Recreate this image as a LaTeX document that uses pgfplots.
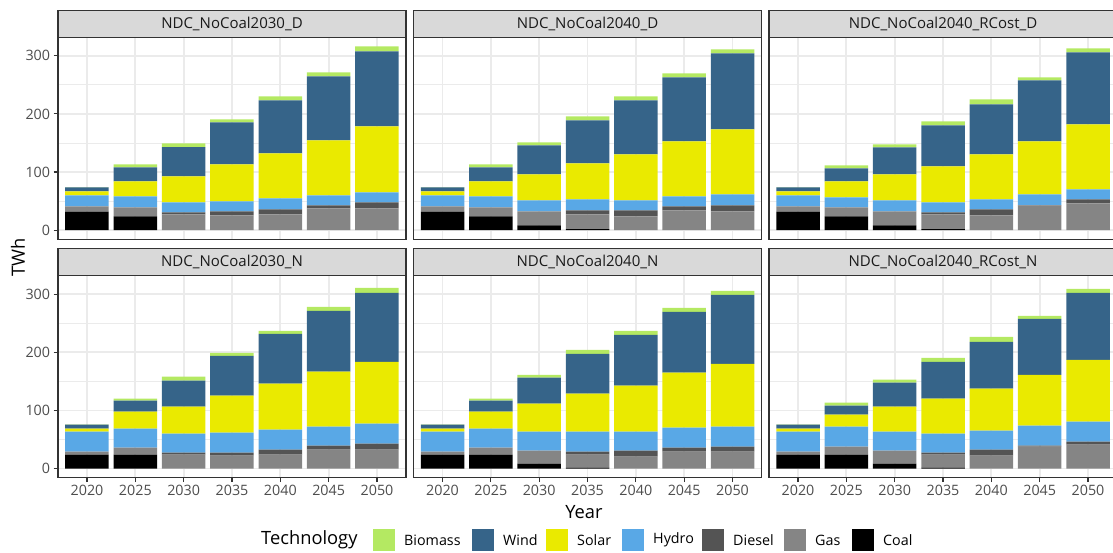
\documentclass[border=0pt]{standalone}
\usepackage{fontspec}
\setmainfont{Open Sans}
\usepackage{pgfplots}
\pgfplotsset{compat=1.18}
\usepackage{pgfplotstable}

\definecolor{cBiomass}{RGB}{180,233,98}
\definecolor{cWind}{RGB}{54,100,137}
\definecolor{cSolar}{RGB}{234,234,0}
\definecolor{cHydro}{RGB}{89,168,230}
\definecolor{cDiesel}{RGB}{84,84,84}
\definecolor{cGas}{RGB}{133,133,133}
\definecolor{cCoal}{RGB}{0,0,0}
\definecolor{grey92}{RGB}{235,235,235}
\definecolor{grey85}{RGB}{217,217,217}
\definecolor{grey30}{RGB}{77,77,77}
\definecolor{grey20}{RGB}{51,51,51}
\definecolor{grey10}{RGB}{26,26,26}

% Generation by technology (TWh), x = 0..6 for 2020..2050
\pgfplotstableread{
x coal gas diesel hydro solar wind biomass
0 32   9    0    19   6.5   7     0.4
1 23.5 15.5 0    19   25.8  24.1  5.1
2 0    27   3.4  17.2 44.8  50.5  6.3
3 0    25.2 6.9  17.2 63.7  72.3  5.2
4 0    27   8.6  18.9 77.5  91.2  6.8
5 0    37.3 5.2  17.2 94.6  110.2 6.9
6 0    37.3 10.3 17.2 113.6 129.1 8.6
}\tabA
\pgfplotstableread{
x coal gas diesel hydro solar wind biomass
0 32   9    0    19   6.5   7     0.4
1 23.5 15.5 0    19   25.8  24.1  5.1
2 8    24.1 0    18.9 44.8  49.9  5.2
3 1.7  25.3 6.8  19   61.9  74.1  6.8
4 0    23.5 10.3 17.2 79.2  93    6.8
5 0    33.8 6.9  17.2 94.7  110.2 6.8
6 0    32.1 10.4 18.9 111.9 130.8 6.9
}\tabB
\pgfplotstableread{
x coal gas diesel hydro solar wind biomass
0 32   9    0    19   6.5   7     0.4
1 23.5 15.5 0    17.2 27.6  22.3  5.2
2 8    24.1 0    18.9 44.8  46.5  5.1
3 1.7  25.3 3.4  17.2 62    70.5  6.9
4 0    25.2 10.4 17.2 77.4  86.1  8.6
5 0    42.5 0.5  18.4 91.2  105   5.2
6 0    45.9 6.9  17.2 111.9 123.9 6.9
}\tabC
\pgfplotstableread{
x coal gas diesel hydro solar wind biomass
0 24   5.2  0    34.3 5.2   6.9   0.4
1 24   12.1 0    32.6 29.2  18.9  3.4
2 0    24   3.5  32.6 46.4  44.6  6.9
3 0    22.3 5.2  34.3 63.6  68.6  5.2
4 0    24   8.6  34.4 79    85.8  5.2
5 0    32.6 6.9  32.6 94.5  104.7 6.9
6 0    32.6 10.3 34.4 106.4 118.5 8.6
}\tabD
\pgfplotstableread{
x coal gas diesel hydro solar wind biomass
0 24   5.2  0    34.3 5.2   6.9   0.4
1 24   12.1 0    32.6 29.2  18.9  3.4
2 8.6  22.3 0    32.6 48.1  44.7  5.1
3 1.7  22.3 5.2  34.3 65.3  68.7  6.8
4 0    20.6 10.3 32.6 79    87.6  6.9
5 0    29.2 6.9  34.3 94.5  104.7 6.9
6 0    29.2 8.6  34.3 108.2 118.5 6.9
}\tabE
\pgfplotstableread{
x coal gas diesel hydro solar wind biomass
0 24   5.2  0    34.3 5.2   6.9   0.4
1 24   13.8 0    34.3 20.6  15.5  5.1
2 8.6  22.3 0    32.6 43    41.2  5.1
3 1.7  22.3 3.5  32.6 60.1  63.5  6.9
4 0    22.3 10.3 32.7 72.1  80.7  8.6
5 0    37.8 1.7  34.3 87.6  96.2  5.1
6 0    41.2 5.2  34.3 106.5 115   6.9
}\tabF

\newcommand{\ticksize}{\fontsize{14.3bp}{16bp}\selectfont}
\newcommand{\stripsize}{\fontsize{15bp}{17bp}\selectfont}
\newcommand{\titlesize}{\fontsize{18.3bp}{21bp}\selectfont}

\pgfplotsset{
  facet/.style={
    scale only axis, width=348bp, height=202bp, anchor=south west,
    xmin=-0.6, xmax=6.6, ymin=-15.8, ymax=331.9,
    ybar stacked, bar width=0.9,
    xtick={0,...,6}, ytick={0,100,200,300}, minor ytick={50,150,250},
    xticklabels={2020,2025,2030,2035,2040,2045,2050},
    grid=both,
    major grid style={color=grey92, line width=1.7bp},
    minor grid style={color=grey92, line width=0.85bp},
    axis line style={color=grey20, line width=1.1bp},
    tick align=outside, tick pos=left,
    major tick length=4.4bp, minor tick length=0pt,
    tick style={color=grey20, line width=1.1bp},
    ticklabel style={font=\ticksize, text=grey30},
    /pgf/number format/assume math mode=true,
  },
  nox/.style={xticklabels={}, xtick style={draw=none}},
  noy/.style={yticklabels={}, ytick style={draw=none}},
}

\newcommand{\stackbars}[1]{%
  \addplot[fill=cCoal, draw=none] table[x=x, y=coal] {#1};
  \addplot[fill=cGas, draw=none] table[x=x, y=gas] {#1};
  \addplot[fill=cDiesel, draw=none] table[x=x, y=diesel] {#1};
  \addplot[fill=cHydro, draw=none] table[x=x, y=hydro] {#1};
  \addplot[fill=cSolar, draw=none] table[x=x, y=solar] {#1};
  \addplot[fill=cWind, draw=none] table[x=x, y=wind] {#1};
  \addplot[fill=cBiomass, draw=none] table[x=x, y=biomass] {#1};
}

\newcommand{\strip}[2]{%
  \draw[fill=grey85, draw=grey20, line width=1.1bp]
    (#1.north west) rectangle ([yshift=27bp]#1.north east);
  \node[font=\stripsize, text=grey10] at ([yshift=13.5bp]#1.north) {#2};
}

\begin{document}
\begin{tikzpicture}
\useasboundingbox (0,0) rectangle (1113bp,553bp);

\begin{axis}[facet, nox, name=pA, at={(58bp,313.7bp)}]
  \stackbars{\tabA}
\end{axis}
\begin{axis}[facet, nox, noy, name=pB, at={(413.5bp,313.7bp)}]
  \stackbars{\tabB}
\end{axis}
\begin{axis}[facet, nox, noy, name=pC, at={(769bp,313.7bp)}]
  \stackbars{\tabC}
\end{axis}
\begin{axis}[facet, name=pD, at={(58bp,75.3bp)}]
  \stackbars{\tabD}
\end{axis}
\begin{axis}[facet, noy, name=pE, at={(413.5bp,75.3bp)}]
  \stackbars{\tabE}
\end{axis}
\begin{axis}[facet, noy, name=pF, at={(769bp,75.3bp)}]
  \stackbars{\tabF}
\end{axis}

\strip{pA}{NDC\_NoCoal2030\_D}
\strip{pB}{NDC\_NoCoal2040\_D}
\strip{pC}{NDC\_NoCoal2040\_RCost\_D}
\strip{pD}{NDC\_NoCoal2030\_N}
\strip{pE}{NDC\_NoCoal2040\_N}
\strip{pF}{NDC\_NoCoal2040\_RCost\_N}

% axis titles
\node[rotate=90, font=\titlesize] at (18bp,295.5bp) {TWh};
\node[font=\titlesize] at (584bp,41bp) {Year};

% legend
\node[font=\titlesize, anchor=west, inner sep=0pt] at (261bp,13bp) {Technology};
\foreach \col/\lab/\xk in {cBiomass/Biomass/373, cWind/Wind/472, cSolar/Solar/546,
    cHydro/Hydro/622, cDiesel/Diesel/702, cGas/Gas/784, cCoal/Coal/852} {
  \fill[\col] (\xk bp,2bp) rectangle ++(22bp,22bp);
  \node[font=\ticksize, anchor=west, inner sep=0pt] at (\xk bp+31bp,13bp) {\lab};
}
\end{tikzpicture}
\end{document}
